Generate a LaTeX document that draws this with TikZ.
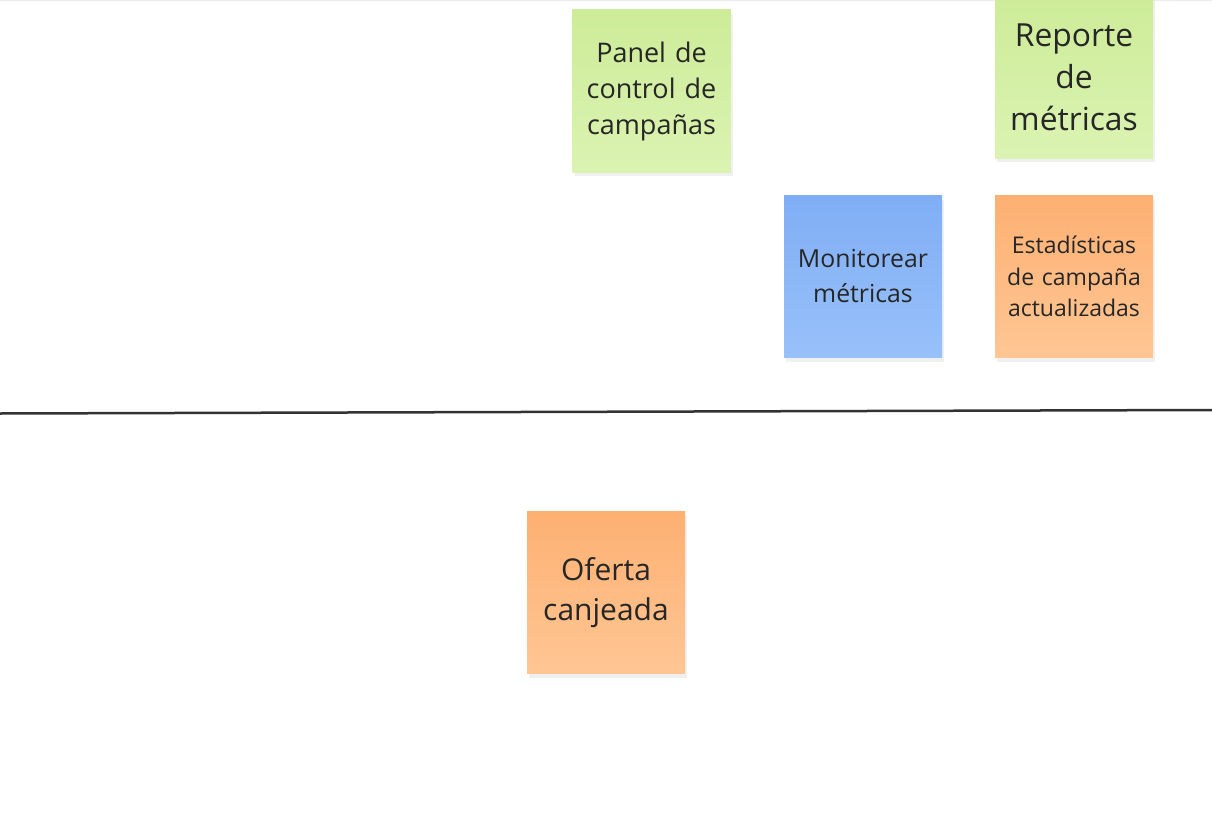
\documentclass[tikz,border=0pt]{standalone}
\usepackage{fontspec}
\setmainfont{Open Sans}
\usetikzlibrary{shadows,positioning}
\definecolor{verdetop}{RGB}{205, 236, 152}
\definecolor{verdebot}{RGB}{219, 243, 178}
\definecolor{azultop}{RGB}{128, 174, 245}
\definecolor{azulbot}{RGB}{152, 193, 250}
\definecolor{naranjatop}{RGB}{253, 176, 114}
\definecolor{naranjabot}{RGB}{255, 198, 148}
\definecolor{lineagris}{RGB}{50, 50, 50}
\tikzset{
  postit/.style={rectangle, minimum width=158pt, minimum height=162pt, inner sep=0pt,
    align=center, text=black!85, text width=156pt,
    drop shadow={opacity=0.12, shadow xshift=2pt, shadow yshift=-4pt}},
  verde/.style={postit, top color=verdetop, bottom color=verdebot},
  azul/.style={postit, top color=azultop, bottom color=azulbot},
  naranja/.style={postit, top color=naranjatop, bottom color=naranjabot}
}
\begin{document}
\begin{tikzpicture}[x=1pt, y=-1pt]
        \useasboundingbox (0,0) rectangle (1212,824);
        \clip (0,0) rectangle (1212,824);
        % Borde superior
        \draw[black!7, line width=1.5pt] (0,0.5) -- (1212,0.5);

        % Notas de arriba
        \node[verde, font={\fontsize{27}{36}\selectfont}] (panel) at (651.5,91) {Panel de\\control de\\campañas};
        \node[verde, font={\fontsize{31.8}{42}\selectfont}] (reporte) at (1074,77) {Reporte\\de\\métricas};
        \node[azul, font={\fontsize{24.8}{35}\selectfont}] (monitorear) at (863,276.5) {Monitorear\\métricas};
        \node[naranja, font={\fontsize{23}{31.5}\selectfont}] (estadisticas) at (1074,276.5) {Estadísticas\\de campaña\\actualizadas};

        % Línea divisoria
        \coordinate (izq) at (0,413.5);
        \coordinate (der) at (1212,410);
        \draw[lineagris, line width=2.5pt] (izq) -- (der);

        % Nota de abajo
        \node[naranja, font={\fontsize{30}{40}\selectfont}] (oferta) at (606,592.5) {Oferta\\canjeada};
    \end{tikzpicture}
\end{document}
